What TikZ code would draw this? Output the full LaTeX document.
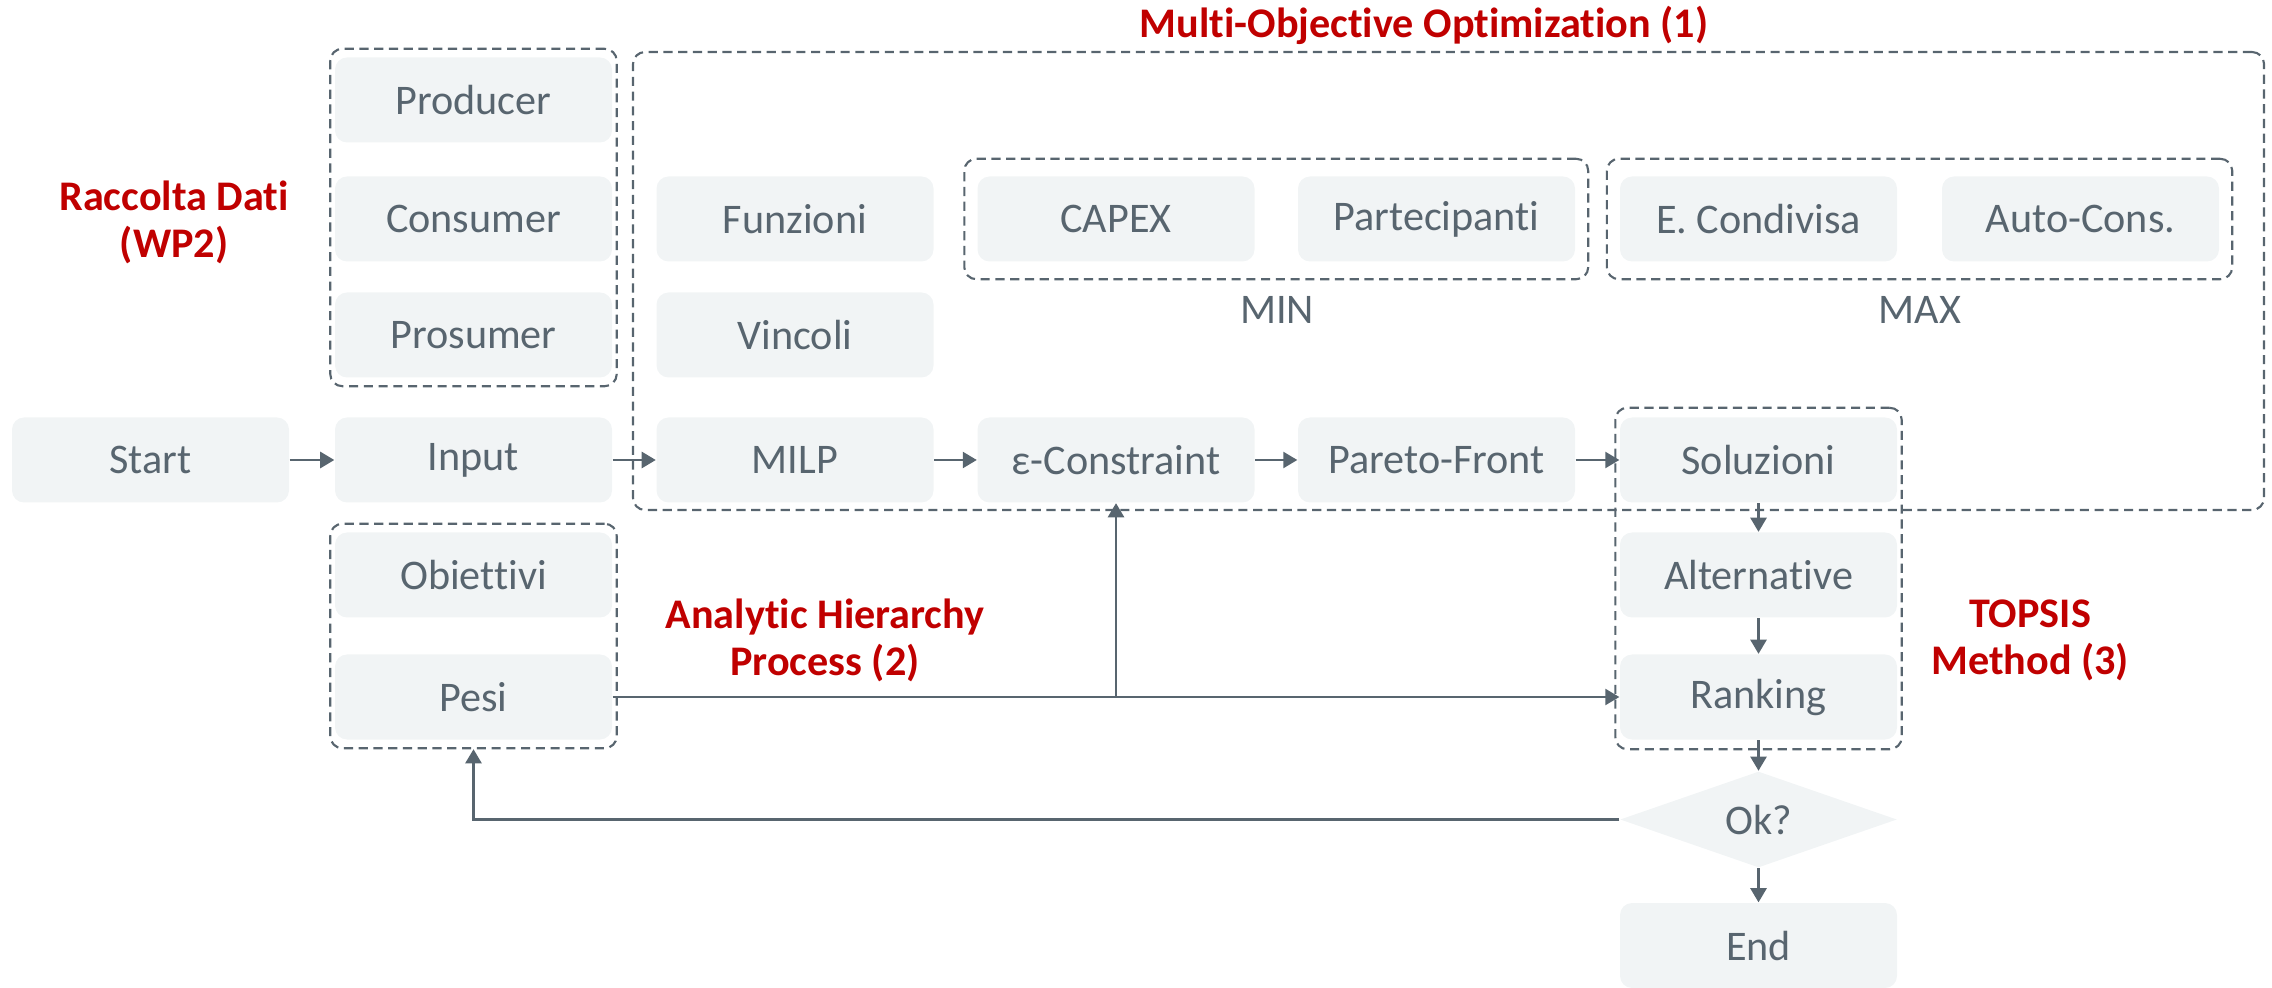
\documentclass[tikz,border=0pt]{standalone}
\usepackage{fontspec}
\setmainfont{Carlito}[Ligatures={NoCommon,NoRequired,NoContextual}]
\usepackage{tikz}
\usetikzlibrary{arrows.meta, shapes.geometric, fit, positioning}
\definecolor{slate}{HTML}{58656F}
\definecolor{boxfill}{HTML}{F1F4F5}
\definecolor{wpred}{HTML}{C00000}
\tikzset{
    box/.style={rectangle, rounded corners=0.12cm, fill=boxfill, text=slate, minimum width=2.77cm, minimum height=0.85cm, inner sep=0pt, font=\fontsize{12}{14.4}\selectfont},
    dec/.style={diamond, fill=boxfill, text=slate, minimum width=2.77cm, minimum height=0.85cm, inner sep=0pt, font=\fontsize{12}{14.4}\selectfont},
    grp/.style={draw=slate, line width=0.6pt, dash pattern=on 2.6pt off 1.6pt, rounded corners=0.12cm, inner xsep=0.04cm, inner ysep=0.08cm},
    arr/.style={draw=slate, line width=0.6pt, -{Triangle[length=4pt, width=4.6pt]}},
    lbl/.style={text=slate, font=\fontsize{12}{14.4}\selectfont},
    title/.style={text=wpred, align=center, font=\fontsize{12}{13.4}\selectfont\bfseries},
}
\begin{document}
\begin{tikzpicture}
    \useasboundingbox (0,0) rectangle (22.72,-9.88);
    % main row
    \node[box] (start) at (1.505,-4.60) {Start};
    \node[box] (input) at (4.735,-4.60) {Input};
    \node[box] (milp) at (7.95,-4.60) {MILP};
    \node[box] (eps) at (11.16,-4.60) {ε-Constraint};
    \node[box] (pareto) at (14.365,-4.60) {Pareto-Front};
    \node[box] (sol) at (17.585,-4.60) {Soluzioni};
    % data
    \node[box] (prod) at (4.735,-1.00) {Producer};
    \node[box] (cons) at (4.735,-2.19) {Consumer};
    \node[box] (pros) at (4.735,-3.35) {Prosumer};
    % model
    \node[box] (funz) at (7.95,-2.19) {Funzioni};
    \node[box] (vinc) at (7.95,-3.35) {Vincoli};
    \node[box] (capex) at (11.16,-2.19) {CAPEX};
    \node[box] (part) at (14.365,-2.19) {Partecipanti};
    \node[box] (econd) at (17.585,-2.19) {E. Condivisa};
    \node[box] (auto) at (20.805,-2.19) {Auto-Cons.};
    % weights and ranking
    \node[box] (obj) at (4.735,-5.75) {Obiettivi};
    \node[box] (pesi) at (4.735,-6.97) {Pesi};
    \node[box] (alt) at (17.585,-5.75) {Alternative};
    \node[box] (rank) at (17.585,-6.97) {Ranking};
    \node[dec] (ok) at (17.585,-8.195) {Ok?};
    \node[box] (fin) at (17.585,-9.455) {End};

    % groups
    \node[grp, fit=(prod)(pros)] (datagrp) {};
    \node[grp, fit=(obj)(pesi)] (ahpgrp) {};
    \node[grp, fit=(sol)(rank), inner ysep=0.09cm] (topgrp) {};
    \node[grp, fit=(capex)(part), inner xsep=0.125cm, inner ysep=0.17cm] (mingrp) {};
    \node[grp, fit=(econd)(auto), inner xsep=0.125cm, inner ysep=0.17cm] (maxgrp) {};
    \node[grp, fit={(6.33,-0.52) (22.64,-5.10)}, inner sep=0pt] (moogrp) {};
    \node[lbl] (minlbl) at (12.77,-3.10) {MIN};
    \node[lbl] (maxlbl) at (19.20,-3.10) {MAX};

    % section titles
    \node[title] (t1) at (1.74,-2.22) {Raccolta Dati\\(WP2)};
    \node[title] (t2) at (14.24,-0.25) {Multi-Objective Optimization (1)};
    \node[title] (t3) at (8.25,-6.40) {Analytic Hierarchy\\Process (2)};
    \node[title] (t4) at (20.30,-6.40) {TOPSIS\\Method (3)};

    % flow
    \draw[arr] (start) -- (input);
    \draw[arr] (input) -- (milp);
    \draw[arr] (milp) -- (eps);
    \draw[arr] (eps) -- (pareto);
    \draw[arr] (pareto) -- (sol);
    \draw[arr] (sol) -- (alt);
    \draw[arr] (alt) -- (rank);
    \draw[arr] (rank) -- (ok);
    \draw[arr] (ok) -- (fin);
    \draw[arr] (pesi) -- (rank);
    \draw[arr] (pesi -| eps) -- (eps);
    \draw[arr] (ok.west) -| (ahpgrp.south);
\end{tikzpicture}
\end{document}
